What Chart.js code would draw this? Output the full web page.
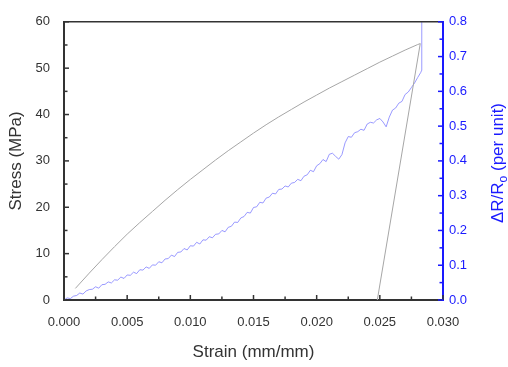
<!DOCTYPE html>
<html>
<head>
<meta charset="utf-8">
<script src="https://cdn.jsdelivr.net/npm/chart.js@4"></script>
<style>
  html, body { margin: 0; padding: 0; background: #fff; }
  #wrap { width: 508px; height: 367px; }
</style>
</head>
<body>
<div id="wrap"><canvas id="chart" width="508" height="367"></canvas></div>
<script>
// stress-strain curve, then the unloading line back to the strain axis
const strainStress = [0.0009, 0.002, 0.003, 0.004, 0.005, 0.006, 0.007, 0.008, 0.009, 0.010,
    0.011, 0.012, 0.013, 0.014, 0.015, 0.016, 0.017, 0.018, 0.019, 0.020,
    0.021, 0.022, 0.023, 0.024, 0.025, 0.026, 0.027, 0.028, 0.0282, 0.0248]
const stress = [2.5, 5.8, 8.7, 11.5, 14.2, 16.7, 19.1, 21.5, 23.8, 26.0,
    28.1, 30.2, 32.2, 34.1, 36.0, 37.8, 39.5, 41.1, 42.7, 44.2,
    45.7, 47.1, 48.5, 49.9, 51.3, 52.6, 53.9, 55.1, 55.3, 0]

// resistance change (per unit)
const strainDR = [0.00000, 0.00025, 0.00050, 0.00075, 0.00100, 0.00125, 0.00150, 0.00175,
    0.00200, 0.00225, 0.00250, 0.00275, 0.00300, 0.00325, 0.00350, 0.00375,
    0.00400, 0.00425, 0.00450, 0.00475, 0.00500, 0.00525, 0.00550, 0.00575,
    0.00600, 0.00625, 0.00650, 0.00675, 0.00700, 0.00725, 0.00750, 0.00775,
    0.00800, 0.00825, 0.00850, 0.00875, 0.00900, 0.00925, 0.00950, 0.00975,
    0.01000, 0.01025, 0.01050, 0.01075, 0.01100, 0.01125, 0.01150, 0.01175,
    0.01200, 0.01225, 0.01250, 0.01275, 0.01300, 0.01325, 0.01350, 0.01375,
    0.01400, 0.01425, 0.01450, 0.01475, 0.01500, 0.01525, 0.01550, 0.01575,
    0.01600, 0.01625, 0.01650, 0.01675, 0.01700, 0.01725, 0.01750, 0.01775,
    0.01800, 0.01825, 0.01850, 0.01875, 0.01900, 0.01925, 0.01950, 0.01975,
    0.02000, 0.02025, 0.02050, 0.02075, 0.02100, 0.02125, 0.02150, 0.02175,
    0.02200, 0.02225, 0.02250, 0.02275, 0.02300, 0.02325, 0.02350, 0.02375,
    0.02400, 0.02425, 0.02450, 0.02475, 0.02500, 0.02525, 0.02550, 0.02575,
    0.02600, 0.02625, 0.02650, 0.02675, 0.02700, 0.02725, 0.02750, 0.02775,
    0.02800, 0.02825, 0.02830, 0.02832]
const deltaR = [0.000, 0.006, 0.004, 0.011, 0.013, 0.020, 0.017, 0.026,
    0.030, 0.031, 0.038, 0.034, 0.044, 0.045, 0.052, 0.049,
    0.058, 0.057, 0.066, 0.062, 0.072, 0.071, 0.080, 0.076,
    0.087, 0.086, 0.095, 0.091, 0.101, 0.100, 0.110, 0.107,
    0.118, 0.119, 0.129, 0.125, 0.137, 0.138, 0.148, 0.144,
    0.156, 0.155, 0.166, 0.161, 0.173, 0.172, 0.182, 0.179,
    0.189, 0.190, 0.200, 0.196, 0.209, 0.212, 0.224, 0.223,
    0.236, 0.240, 0.252, 0.250, 0.266, 0.268, 0.281, 0.279,
    0.293, 0.296, 0.307, 0.305, 0.318, 0.319, 0.328, 0.325,
    0.336, 0.338, 0.347, 0.343, 0.356, 0.360, 0.373, 0.369,
    0.386, 0.392, 0.404, 0.398, 0.419, 0.422, 0.413, 0.405,
    0.418, 0.452, 0.470, 0.468, 0.481, 0.484, 0.491, 0.488,
    0.506, 0.511, 0.509, 0.518, 0.522, 0.512, 0.498, 0.526,
    0.546, 0.552, 0.566, 0.571, 0.591, 0.598, 0.611, 0.624,
    0.640, 0.655, 0.660, 0.900]

const strainTicks = [0, 0.005, 0.010, 0.015, 0.020, 0.025, 0.030]
const stressTicks = [0, 10, 20, 30, 40, 50, 60]
const deltaRTicks = [0, 0.1, 0.2, 0.3, 0.4, 0.5, 0.6, 0.7, 0.8]

const rightTitle = ['\u0394R/R', 'o', ' (per unit)']

const fontFamily = '"Liberation Sans", Arial, sans-serif'
const dark = '#333333'
const blue = '#1a1aff'

function pairs(xs, ys) {
    return xs.map((x, i) => ({x: x, y: ys[i]}))
}

function setTicks(values) {
    return scale => { scale.ticks = values.map(v => ({value: v})) }
}

// Origin-style frame: inward major/minor ticks, top border, rotated right title with subscript
const frameTicks = {
    id: 'frameTicks',
    afterDraw(chart) {
        const {ctx, chartArea: a, scales} = chart
        ctx.save()
        ctx.lineWidth = 1.5
        ctx.strokeStyle = dark
        ctx.beginPath()
        ctx.moveTo(a.left, a.top)
        ctx.lineTo(a.right, a.top)
        ctx.stroke()

        function marks(scale, color, draw) {
            ctx.strokeStyle = color
            ctx.lineWidth = 1.5
            const vals = scale.ticks.map(t => t.value)
            vals.forEach((v, i) => {
                draw(scale.getPixelForValue(v), 5)
                if (i < vals.length - 1) draw(scale.getPixelForValue((v + vals[i + 1]) / 2), 3.5)
            })
        }
        marks(scales.x, dark, (p, len) => {
            ctx.beginPath(); ctx.moveTo(p, a.bottom); ctx.lineTo(p, a.bottom - len); ctx.stroke()
        })
        marks(scales.y, dark, (p, len) => {
            ctx.beginPath(); ctx.moveTo(a.left, p); ctx.lineTo(a.left + len, p); ctx.stroke()
        })
        marks(scales.y2, blue, (p, len) => {
            ctx.beginPath(); ctx.moveTo(a.right, p); ctx.lineTo(a.right - len, p); ctx.stroke()
        })

        // right axis title, reading bottom to top
        const big = '17px ' + fontFamily
        const small = '12px ' + fontFamily
        ctx.font = big
        const w0 = ctx.measureText(rightTitle[0]).width
        const w2 = ctx.measureText(rightTitle[2]).width
        ctx.font = small
        const w1 = ctx.measureText(rightTitle[1]).width
        const total = w0 + w1 + w2
        ctx.translate(503, 163)
        ctx.rotate(-Math.PI / 2)
        ctx.fillStyle = blue
        ctx.textBaseline = 'alphabetic'
        ctx.textAlign = 'left'
        let x = -total / 2
        ctx.font = big
        ctx.fillText(rightTitle[0], x, 0)
        x += w0
        ctx.font = small
        ctx.fillText(rightTitle[1], x, 4)
        x += w1
        ctx.font = big
        ctx.fillText(rightTitle[2], x, 0)
        ctx.restore()
    }
}

new Chart(document.getElementById('chart'), {
    type: 'line',
    data: {
        datasets: [
            {
                label: 'Stress',
                data: pairs(strainStress, stress),
                yAxisID: 'y',
                borderColor: '#a6a6a6',
                borderWidth: 1,
                pointRadius: 0,
                tension: 0
            },
            {
                label: 'dR/Ro',
                data: pairs(strainDR, deltaR),
                yAxisID: 'y2',
                borderColor: 'rgba(120,120,255,0.75)',
                borderWidth: 1,
                pointRadius: 0,
                tension: 0
            }
        ]
    },
    plugins: [frameTicks],
    options: {
        responsive: false,
        animation: false,
        events: [],
        layout: {padding: {top: 17, left: 0, right: 0, bottom: 0}},
        plugins: {legend: {display: false}, tooltip: {enabled: false}},
        scales: {
            x: {
                type: 'linear',
                min: 0,
                max: 0.03,
                afterBuildTicks: setTicks(strainTicks),
                afterFit: s => { s.height = 67 },
                grid: {display: false, drawTicks: false},
                border: {display: true, color: dark, width: 2},
                ticks: {
                    padding: 15,
                    color: dark,
                    font: {family: fontFamily, size: 13},
                    maxRotation: 0,
                    callback: v => v.toFixed(3)
                },
                title: {
                    display: true,
                    text: 'Strain (mm/mm)',
                    color: dark,
                    font: {family: fontFamily, size: 17},
                    padding: {top: 0, bottom: 4}
                }
            },
            y: {
                type: 'linear',
                position: 'left',
                min: 0,
                max: 60,
                afterBuildTicks: setTicks(stressTicks),
                afterFit: s => { s.width = 64 },
                grid: {display: false, drawTicks: false},
                border: {display: true, color: dark, width: 2},
                ticks: {
                    padding: 14,
                    color: dark,
                    font: {family: fontFamily, size: 13},
                    callback: v => String(v)
                },
                title: {
                    display: true,
                    text: 'Stress (MPa)',
                    color: dark,
                    font: {family: fontFamily, size: 17},
                    padding: {top: 6, bottom: 0}
                }
            },
            y2: {
                type: 'linear',
                position: 'right',
                min: 0,
                max: 0.8,
                afterBuildTicks: setTicks(deltaRTicks),
                afterFit: s => { s.width = 65 },
                grid: {display: false, drawTicks: false},
                border: {display: true, color: blue, width: 2},
                ticks: {
                    padding: 6,
                    color: blue,
                    font: {family: fontFamily, size: 13},
                    callback: v => v.toFixed(1)
                }
            }
        }
    }
})
</script>
</body>
</html>
